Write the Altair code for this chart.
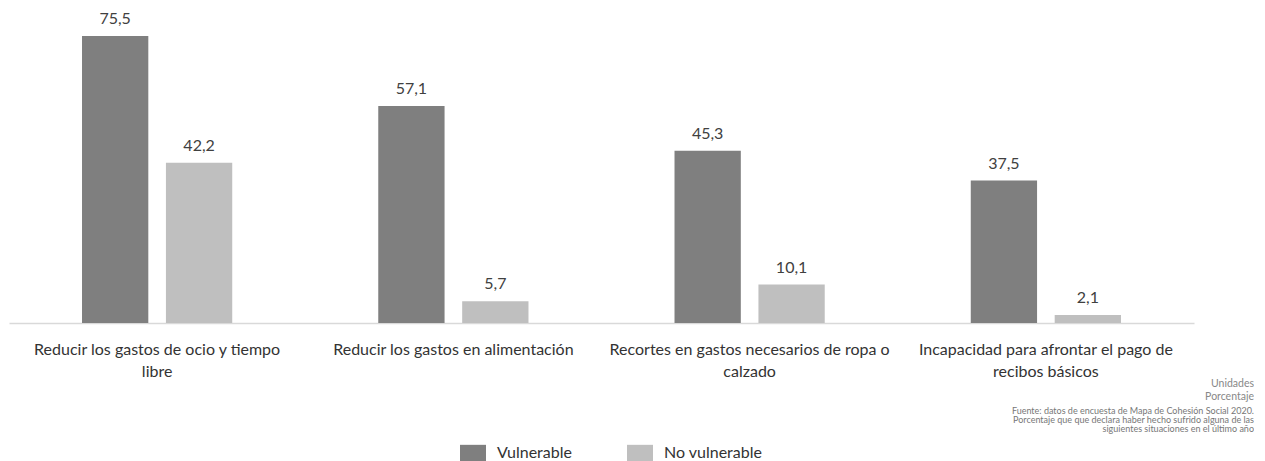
import altair as alt
import pandas as pd

categories = [
    "Reducir los gastos de ocio y tiempo\nlibre",
    "Reducir los gastos en alimentación",
    "Recortes en gastos necesarios de ropa o\ncalzado",
    "Incapacidad para afrontar el pago de\nrecibos básicos",
]
series = ["Vulnerable", "No vulnerable"]
vulnerable = [75.5, 57.1, 45.3, 37.5]
no_vulnerable = [42.2, 5.7, 10.1, 2.1]
colors = ["#7f7f7f", "#bfbfbf"]

notes_right = ["Unidades", "Porcentaje"]
notes_source = [
    "Fuente: datos de encuesta de Mapa de Cohesión Social 2020.",
    "Porcentaje que que declara haber hecho sufrido alguna de las",
    "siguientes situaciones en el último año",
]

rows = []
for c, v, n in zip(categories, vulnerable, no_vulnerable):
    rows.append({"cat": c, "serie": series[0], "value": v})
    rows.append({"cat": c, "serie": series[1], "value": n})
df = pd.DataFrame(rows)

FONT = "Lato"

x = alt.X(
    "cat:N",
    sort=categories,
    title=None,
    scale=alt.Scale(paddingInner=0, paddingOuter=0),
    axis=alt.Axis(
        labelExpr="split(datum.label, '\\n')",
        labelAngle=0,
        labelFontSize=16,
        labelFont=FONT,
        labelColor="#333333",
        labelLineHeight=22,
        labelPadding=18,
        labelLimit=400,
        ticks=False,
        domainColor="#d9d9d9",
        domainWidth=1.5,
        grid=False,
    ),
)
xo = alt.XOffset(
    "serie:N", sort=series, scale=alt.Scale(paddingInner=0.21, paddingOuter=0.87)
)
y = alt.Y("value:Q", axis=None, scale=alt.Scale(domain=[0, 80], nice=False))

legend_path = "M-1,-0.65H1V0.65H-1Z"

bars = alt.Chart(df).mark_bar().encode(
    x=x,
    xOffset=xo,
    y=y,
    color=alt.Color(
        "serie:N",
        sort=series,
        scale=alt.Scale(domain=series, range=colors),
        legend=alt.Legend(
            title=None,
            orient="none",
            direction="horizontal",
            legendX=451,
            legendY=421,
            padding=0,
            symbolType=legend_path,
            symbolSize=676,
            symbolStrokeWidth=0,
            symbolOpacity=1,
            labelFont=FONT,
            labelFontSize=16,
            labelColor="#333333",
            labelOffset=11,
            columnPadding=55,
        ),
    ),
)

labels = (
    alt.Chart(df)
    .transform_calculate(lab="replace(format(datum.value, '.1f'), '.', ',')")
    .mark_text(baseline="bottom", dy=-9, fontSize=16, font=FONT, color="#404040")
    .encode(x=x, xOffset=xo, y=y, text="lab:N")
)

right_df = pd.DataFrame({"t": notes_right, "i": list(range(len(notes_right)))})
right_txt = (
    alt.Chart(right_df)
    .transform_calculate(yy="365 + datum.i * 13")
    .mark_text(align="right", baseline="middle", fontSize=10.5, font=FONT, color="#888888")
    .encode(x=alt.value(1245), y=alt.Y("yy:Q", scale=None), text="t:N")
)
src_df = pd.DataFrame({"t": notes_source, "i": list(range(len(notes_source)))})
src_txt = (
    alt.Chart(src_df)
    .transform_calculate(yy="392 + datum.i * 9")
    .mark_text(align="right", baseline="middle", fontSize=9, font=FONT, color="#777777")
    .encode(x=alt.value(1245), y=alt.Y("yy:Q", scale=None), text="t:N")
)

chart = (
    alt.layer(bars, labels, right_txt, src_txt)
    .properties(width=1185, height=304, padding={"left": 1, "top": 3, "right": 0, "bottom": 0})
    .configure_view(stroke=None)
)

chart.save("out.html", embed_options={"renderer": "svg", "actions": False})
